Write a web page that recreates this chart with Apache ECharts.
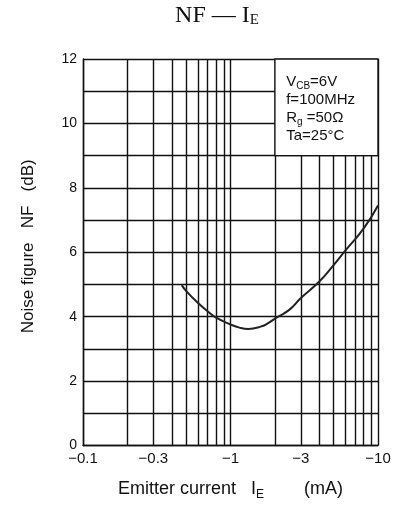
<!DOCTYPE html>
<html>
<head>
<meta charset="utf-8">
<script src="https://cdn.jsdelivr.net/npm/echarts@6/dist/echarts.min.js"></script>
<style>html,body{margin:0;padding:0;background:#fff}#c{width:400px;height:507px}</style>
</head>
<body>
<div id="c"></div>
<script>
// Emitter current (mA) and noise figure (dB)
var currentMA = [0.467, 0.5, 0.6, 0.7, 0.8, 1.0, 1.15, 1.32, 1.6, 1.8, 2.05, 2.5, 3.0, 4.0, 5.0, 6.0, 8.0, 10.0];
var noiseDB   = [4.98, 4.8, 4.43, 4.17, 3.97, 3.76, 3.66, 3.62, 3.69, 3.8, 3.97, 4.21, 4.58, 5.09, 5.6, 6.05, 6.74, 7.45];
var xGridValues = [0.1,0.2,0.3,0.4,0.5,0.6,0.7,0.8,0.9,1,2,3,4,5,6,7,8,9,10];
var xLabelValues = [0.1, 0.3, 1, 3, 10];
var yLabelValues = [0, 2, 4, 6, 8, 10, 12];

var data = currentMA.map(function (x, i) { return [x, noiseDB[i]]; });
var chart = echarts.init(document.getElementById('c'), null, {renderer: 'canvas'});
var sans = 'Liberation Sans, Arial, sans-serif';
var serif = 'Liberation Serif, Times New Roman, serif';
var gridLine = {show: true, lineStyle: {color: '#111', width: 1.4}};

chart.setOption({
  backgroundColor: '#fff',
  animation: false,
  title: {
    text: '{a|NF — I}{b|E}',
    left: 217, top: 4, textAlign: 'center', padding: 0,
    textStyle: {
      rich: {
        a: {fontFamily: serif, fontSize: 24, fontWeight: 'normal', color: '#111'},
        b: {fontFamily: serif, fontSize: 15, fontWeight: 'normal', color: '#111', verticalAlign: 'bottom', padding: [9, 0, 0, 0]}
      }
    }
  },
  grid: {left: 83, right: 22, top: 59, bottom: 61.5},
  xAxis: {
    type: 'log', logBase: 10, min: 0.1, max: 10,
    axisLine: {show: true, lineStyle: {color: '#111', width: 1.4}},
    axisTick: {show: false, customValues: xGridValues},
    splitLine: gridLine,
    minorTick: {show: false},
    axisLabel: {
      customValues: xLabelValues,
      color: '#111', fontFamily: sans, fontSize: 15, margin: 6,
      formatter: function (v) { return '\u2212' + v; }
    },
    name: '{n|Emitter current   I}{s|E}{n|        (mA)}',
    nameLocation: 'middle', nameGap: 33,
    nameTextStyle: {
      rich: {
        n: {fontFamily: sans, fontSize: 18, color: '#111'},
        s: {fontFamily: sans, fontSize: 12, color: '#111', verticalAlign: 'bottom', padding: [10, 0, 0, 0]}
      }
    }
  },
  yAxis: {
    type: 'value', min: 0, max: 12, interval: 1,
    axisLine: {show: true, lineStyle: {color: '#111', width: 1.4}},
    axisTick: {show: false},
    splitLine: gridLine,
    axisLabel: {
      color: '#111', fontFamily: sans, fontSize: 14, margin: 6,
      formatter: function (v) { return yLabelValues.indexOf(v) >= 0 ? String(v) : ''; }
    },
    name: 'Noise figure   NF   (dB)',
    nameLocation: 'middle', nameGap: 46, nameRotate: 90,
    nameTextStyle: {fontFamily: sans, fontSize: 17, color: '#111', padding: [0, 0, 0, 12]}
  },
  series: [{
    type: 'line',
    data: data,
    smooth: true,
    showSymbol: false,
    lineStyle: {color: '#222', width: 2},
    markArea: {
      silent: true,
      itemStyle: {color: '#fff', borderColor: '#111', borderWidth: 1.4, opacity: 1},
      label: {
        show: true, position: [12, 15],
        formatter: '{n|V}{s|CB}{n|=6V}\n{n|f=100MHz}\n{n|R}{s|g}{n| =50Ω}\n{n|Ta=25°C}',
        rich: {
          n: {fontFamily: sans, fontSize: 15, color: '#111', lineHeight: 18},
          s: {fontFamily: sans, fontSize: 10, color: '#111', lineHeight: 18, verticalAlign: 'bottom', padding: [6, 0, 0, 0]}
        }
      },
      data: [[{xAxis: 2, yAxis: 12}, {xAxis: 10, yAxis: 9}]]
    }
  }]
});
</script>
</body>
</html>
